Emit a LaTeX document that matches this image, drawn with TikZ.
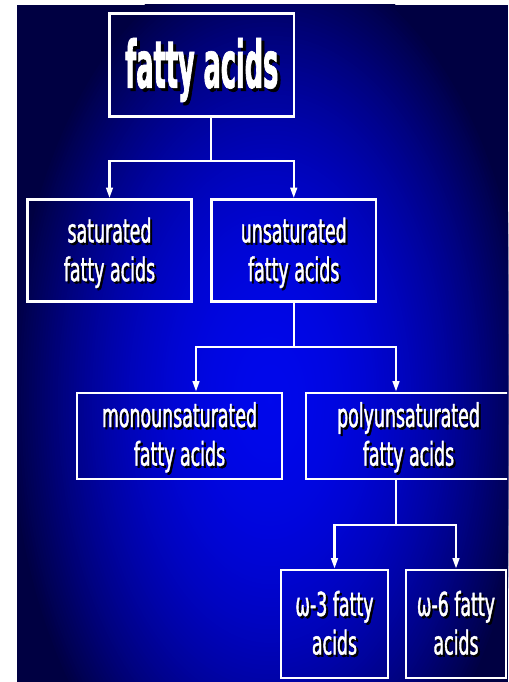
\documentclass[tikz,border=0pt]{standalone}
\usepackage{fontspec}
\usetikzlibrary{arrows.meta,calc}
\newfontfamily\lblfont[FakeStretch=0.53,FakeBold=1.2]{DejaVu Sans}
\newfontfamily\ttlfont[FakeStretch=0.39,FakeBold=1,UprightFont=* Bold]{DejaVu Sans}
\newcommand\shd[1]{\leavevmode\rlap{\kern1.8pt\raisebox{-1.8pt}{\color{black}#1}}#1}
\newcommand\shdb[1]{\leavevmode\rlap{\kern2.6pt\raisebox{-2.6pt}{\color{black}#1}}#1}
\newcommand\lift[1]{\rule{0pt}{#1}}
\definecolor{bgdark}{rgb}{0,0,0.26}
\def\pxu{0.03cm}
\begin{document}
\begin{tikzpicture}[x=0.03cm,y=-0.03cm,
  box/.style={draw=white,line width=2.1pt,inner sep=0pt,text=white,align=center,
    font=\lblfont\fontsize{28pt}{33pt}\selectfont},
  titlebox/.style={box,font=\ttlfont\fontsize{56pt}{60pt}\selectfont},
  conn/.style={draw=white,line width=2.1pt},
  arr/.style={conn,-{Triangle[width=5.5pt,length=9pt]}}]
\useasboundingbox (0,0) rectangle (508,682);
\fill[white] (0,0) rectangle (508,682);
\begin{scope}
  \clip (17,5) rectangle (508,682);
  \fill[bgdark] (17,5) rectangle (508,682);
  \foreach \i in {100,...,1}{
    \pgfmathsetmacro\tv{\i/100}
    \pgfmathsetmacro\bv{0.92-0.66*(\tv^2)}
    \pgfmathsetmacro\gv{0.03*(1-\tv)}
    \definecolor{ringc}{rgb}{0,\gv,\bv}
    \fill[ringc] (270,400) ellipse [x radius=262*\tv, y radius=450*\tv];
  }
\end{scope}
\begin{scope}
\clip (17,5) rectangle (507,682);
\node[titlebox, minimum width=184.5*\pxu, minimum height=103*\pxu] (top) at (201.75,65) {\raisebox{-19.5pt}[0pt][0pt]{\shdb{fatty acids}}};
\node[box, minimum width=164*\pxu, minimum height=102*\pxu] (sat) at (109.5,250.5) {\lift{27pt}\shd{saturated}\\\shd{fatty acids}};
\node[box, minimum width=164.5*\pxu, minimum height=102*\pxu] (unsat) at (293.75,250.5) {\lift{27pt}\shd{unsaturated}\\\shd{fatty acids}};
\node[box, minimum width=205*\pxu, minimum height=86*\pxu] (mono) at (179.5,436) {\lift{25.3pt}\shd{monounsaturated}\\\shd{fatty acids}};
\node[box, minimum width=205*\pxu, minimum height=86*\pxu] (poly) at (408.5,436) {\lift{25.3pt}\shd{polyunsaturated}\\\shd{fatty acids}};
\node[box, minimum width=107*\pxu, minimum height=108*\pxu] (w3) at (334.5,624) {\shd{ω-3 fatty}\\\shd{acids}};
\node[box, minimum width=100*\pxu, minimum height=108*\pxu] (w6) at (456,624) {\shd{ω-6 fatty}\\\shd{acids}};

\coordinate (j1) at (211,161);
\draw[conn] (top.south -| j1) -- (j1);
\draw[arr] (j1) -| (sat.north);
\draw[arr] (j1) -| (unsat.north);

\coordinate (j2) at ($(unsat.south)+(0,44.5)$);
\draw[conn] (unsat.south) -- (j2);
\draw[arr] (j2) -| ($(mono.north)+(16.5,0)$);
\draw[arr] (j2) -| ($(poly.north)+(-12.5,0)$);

\coordinate (j3) at ($(poly.south)+(-12.5,45)$);
\draw[conn] ($(poly.south)+(-12.5,0)$) -- (j3);
\draw[arr] (j3) -| (w3.north);
\draw[arr] (j3) -| (w6.north);
\end{scope}
\end{tikzpicture}
\end{document}
